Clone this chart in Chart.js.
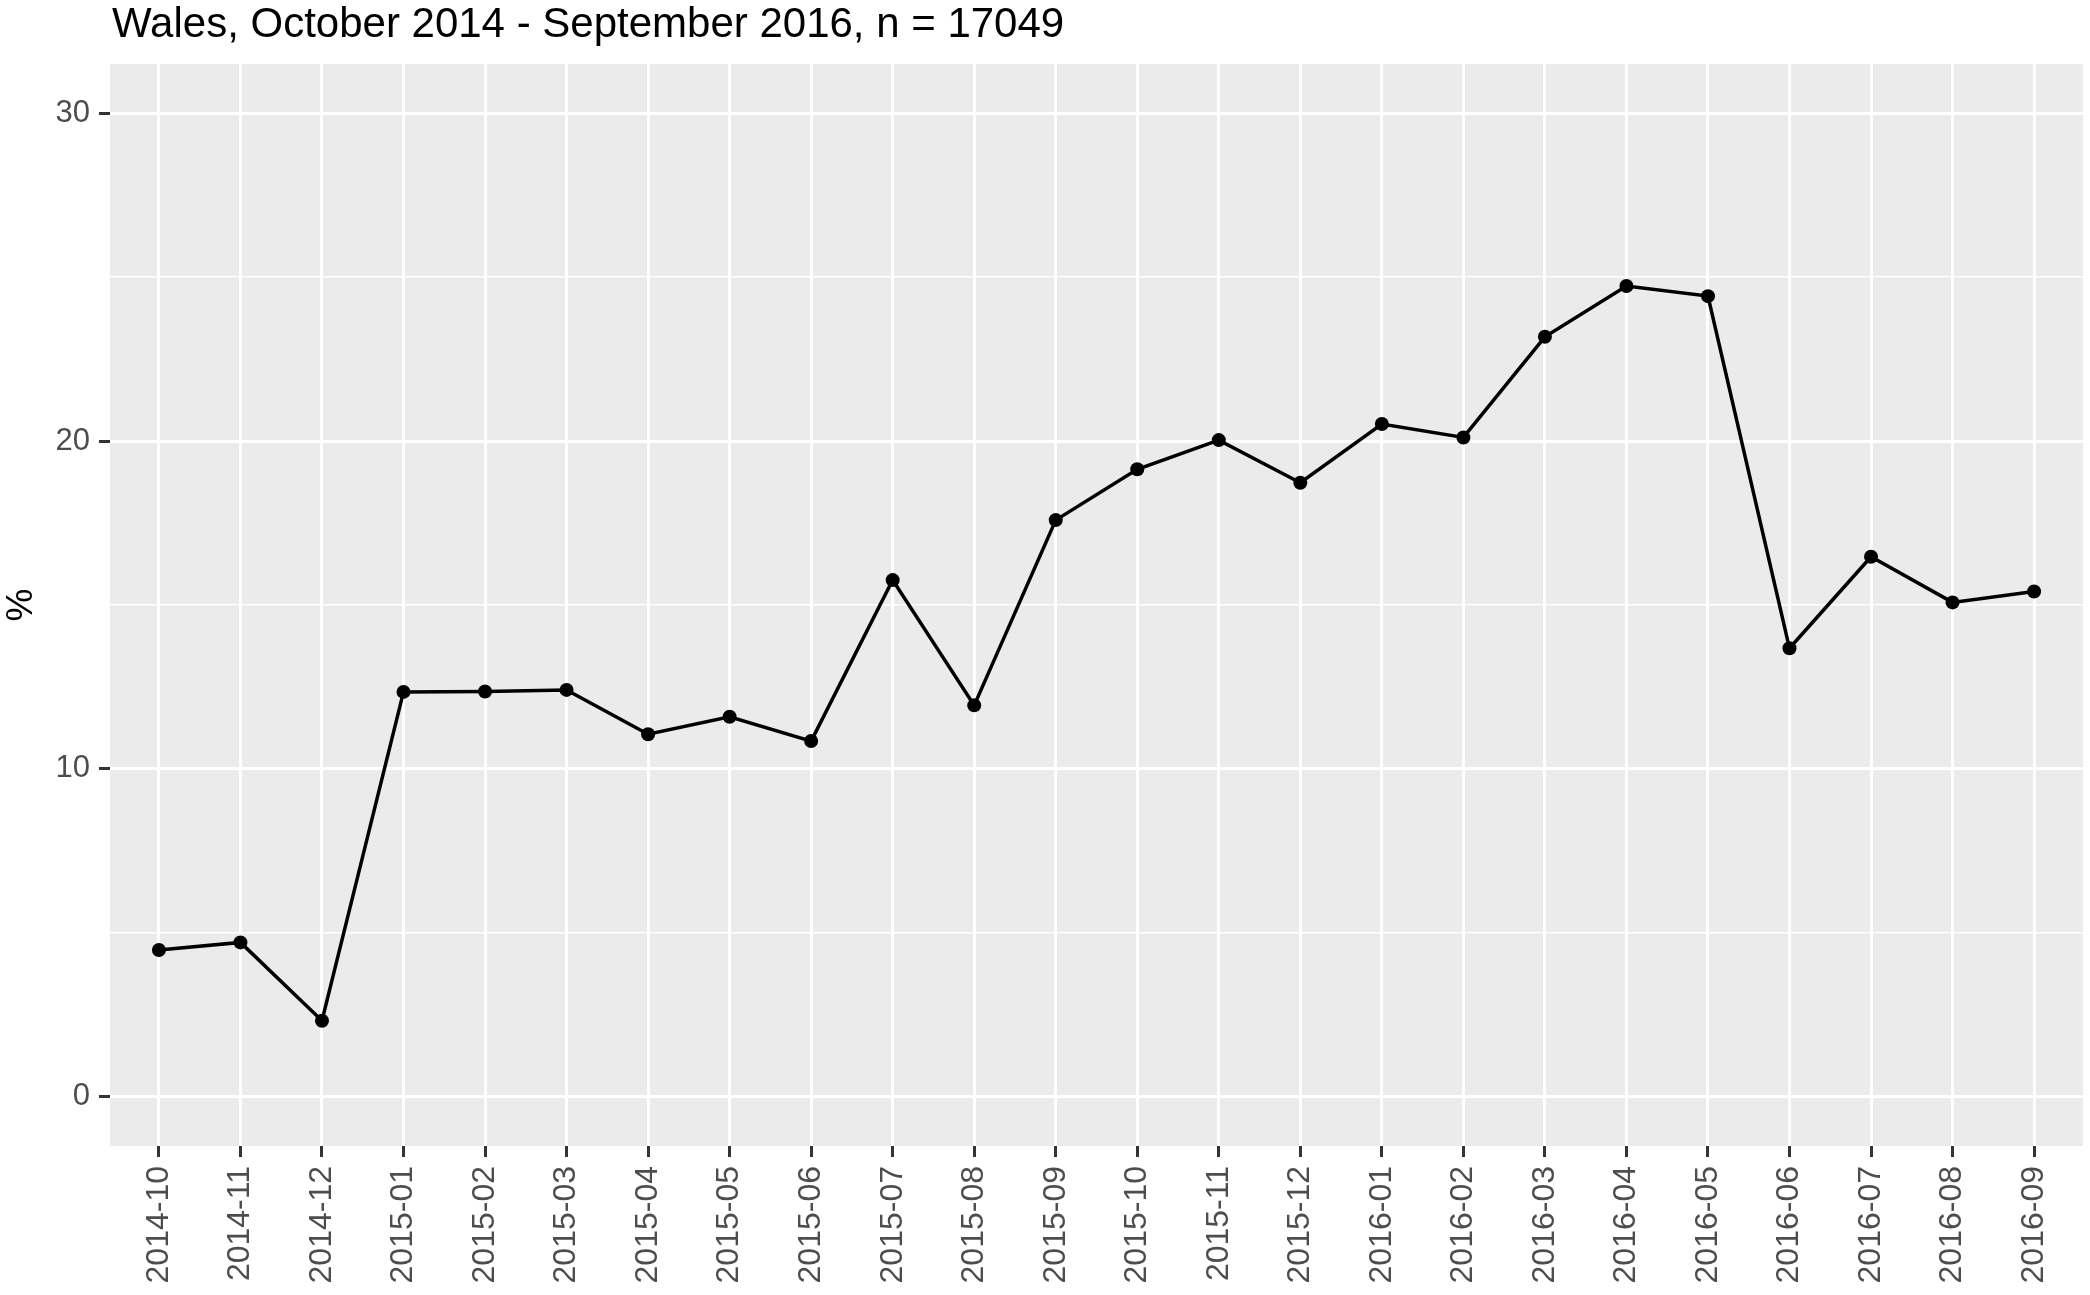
<!DOCTYPE html>
<html>
<head>
<meta charset="utf-8">
<script src="https://cdn.jsdelivr.net/npm/chart.js@4/dist/chart.umd.min.js"></script>
<style>
  html, body { margin: 0; padding: 0; background: #fff; }
  #wrap { width: 2090px; height: 1295px; }
</style>
</head>
<body>
<div id="wrap"><canvas id="chart" width="2090" height="1295"></canvas></div>
<script>
const titleText = 'Wales, October 2014 - September 2016, n = 17049';

const months = [
  '2014-10', '2014-11', '2014-12', '2015-01', '2015-02', '2015-03',
  '2015-04', '2015-05', '2015-06', '2015-07', '2015-08', '2015-09',
  '2015-10', '2015-11', '2015-12', '2016-01', '2016-02', '2016-03',
  '2016-04', '2016-05', '2016-06', '2016-07', '2016-08', '2016-09'
];

const percent = [
  4.48, 4.71, 2.32, 12.35, 12.36, 12.41,
  11.06, 11.59, 10.85, 15.76, 11.94, 17.59,
  19.14, 20.03, 18.73, 20.52, 20.11, 23.18,
  24.73, 24.42, 13.68, 16.47, 15.08, 15.41
];

const yTicks = [0, 5, 10, 15, 20, 25, 30];

const font = 'Liberation Sans, Arial, sans-serif';

// grey panel + title drawn like ggplot
const panel = {
  id: 'panel',
  beforeDraw(chart) {
    const { ctx, chartArea: a } = chart;
    ctx.save();
    ctx.fillStyle = '#fff';
    ctx.fillRect(0, 0, chart.width, chart.height);
    ctx.fillStyle = '#EBEBEB';
    ctx.fillRect(a.left, a.top, a.right - a.left, a.bottom - a.top);
    ctx.fillStyle = '#000';
    ctx.font = '42px ' + font;
    ctx.textBaseline = 'alphabetic';
    ctx.fillText(titleText, 112, 37);
    ctx.restore();
  }
};

new Chart(document.getElementById('chart'), {
  type: 'line',
  data: {
    datasets: [{
      data: percent.map((v, i) => ({ x: i, y: v })),
      borderColor: '#000',
      backgroundColor: '#000',
      borderWidth: 3.5,
      pointRadius: 7,
      pointHoverRadius: 7,
      pointBorderWidth: 0,
      tension: 0,
      fill: false
    }]
  },
  options: {
    responsive: false,
    animation: false,
    devicePixelRatio: 1,
    layout: { padding: { top: 64, right: 5, left: 0, bottom: 0 } },
    plugins: {
      legend: { display: false },
      tooltip: { enabled: false },
      title: { display: false }
    },
    scales: {
      x: {
        type: 'linear',
        min: -0.6,
        max: 23.6,
        afterBuildTicks: s => { s.ticks = months.map((_, i) => ({ value: i })); },
        afterFit: s => { s.height = 149; },
        border: { display: false },
        grid: {
          color: '#fff',
          lineWidth: 3,
          drawTicks: true,
          tickLength: 11,
          tickColor: '#333',
          tickWidth: 3
        },
        ticks: {
          autoSkip: false,
          maxRotation: 90,
          minRotation: 90,
          padding: 9,
          color: '#4D4D4D',
          font: { family: font, size: 32 },
          callback: v => months[v]
        }
      },
      y: {
        min: -1.5,
        max: 31.5,
        afterBuildTicks: s => { s.ticks = yTicks.map(v => ({ value: v })); },
        afterFit: s => { s.width = 110; },
        border: { display: false },
        grid: {
          color: '#fff',
          lineWidth: c => (c.tick && c.tick.value % 10 === 0 ? 3 : 1.5),
          drawTicks: true,
          tickLength: 11,
          tickColor: c => (c.tick && c.tick.value % 10 === 0 ? '#333' : 'rgba(0,0,0,0)'),
          tickWidth: 3
        },
        ticks: {
          padding: 9,
          color: '#4D4D4D',
          font: { family: font, size: 31 },
          callback: v => (v % 10 === 0 ? String(v) : '')
        },
        title: {
          display: true,
          text: '%',
          color: '#000',
          padding: { top: 0, bottom: 0 },
          font: { family: font, size: 37 }
        }
      }
    }
  },
  plugins: [panel]
});
</script>
</body>
</html>
